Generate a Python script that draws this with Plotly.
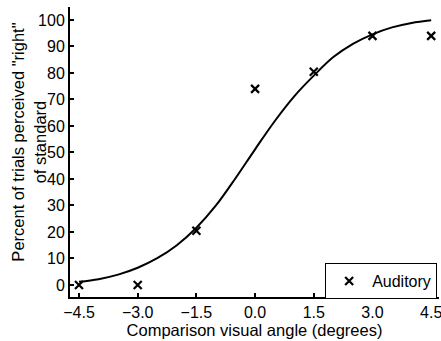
import plotly.graph_objects as go

# Observed data (Auditory)
angles = [-4.5, -3.0, -1.5, 0.0, 1.5, 3.0, 4.5]
percent_right = [0, 0, 20.5, 74, 80.5, 94, 94]

# Fitted curve
fit_x = [-4.5, -4.0, -3.5, -3.0, -2.5, -2.0, -1.5, -1.0, -0.5, 0.0,
         0.5, 1.0, 1.5, 2.0, 2.5, 3.0, 3.5, 4.0, 4.5]
fit_y = [1.2, 2.2, 3.9, 6.5, 10.1, 15.0, 21.6, 30.0, 40.3, 51.2,
         61.8, 71.2, 79.0, 86.0, 91.0, 94.6, 97.2, 98.9, 99.9]

x_ticks = [-4.5, -3.0, -1.5, 0.0, 1.5, 3.0, 4.5]
x_tick_labels = ["−4.5", "−3.0", "−1.5", "0.0", "1.5", "3.0", "4.5"]
y_ticks = [0, 10, 20, 30, 40, 50, 60, 70, 80, 90, 100]

font_family = "Liberation Sans, Arial, sans-serif"

fig = go.Figure()
fig.add_trace(go.Scatter(
    x=fit_x, y=fit_y, mode="lines",
    line=dict(color="black", width=2, shape="spline", smoothing=1.0),
    showlegend=False, hoverinfo="skip",
))
fig.add_trace(go.Scatter(
    x=angles, y=percent_right, mode="markers", name="Auditory",
    marker=dict(symbol="x-thin", size=8, color="black",
                line=dict(color="black", width=2.2)),
))

fig.update_layout(
    width=441, height=341,
    margin=dict(l=70, r=2, t=7, b=44),
    paper_bgcolor="white", plot_bgcolor="white",
    font=dict(family=font_family, size=16, color="black"),
    xaxis=dict(
        range=[-4.73, 4.70], tickvals=x_ticks, ticktext=x_tick_labels,
        showline=True, linecolor="black", linewidth=2,
        ticks="inside", ticklen=4, tickwidth=1.5, tickcolor="black",
        showgrid=False, zeroline=False, automargin=False,
        ticklabeloverflow="allow",
        tickfont=dict(size=16),
        title=dict(text="Comparison visual angle (degrees)", standoff=0,
                   font=dict(size=16.5)),
    ),
    yaxis=dict(
        range=[-4.53, 104.9], tickvals=y_ticks,
        showline=True, linecolor="black", linewidth=2,
        ticks="inside", ticklen=4, tickwidth=1.5, tickcolor="black",
        showgrid=False, zeroline=False, automargin=False,
        ticklabeloverflow="allow",
        tickfont=dict(size=16),
    ),
    annotations=[dict(
        text="Percent of trials perceived \"right\"<br>of standard",
        xref="paper", yref="paper", x=-0.1125, y=0.534,
        xanchor="center", yanchor="middle", textangle=-90,
        showarrow=False, font=dict(size=16.5),
    )],
    legend=dict(
        x=0.995, y=0.055, xanchor="right", yanchor="middle",
        bordercolor="black", borderwidth=1, bgcolor="white",
        font=dict(size=16), itemwidth=36,
    ),
)

fig.write_html("out.html", post_script="document.body.style.margin='0';",
               config={"displayModeBar": False})
